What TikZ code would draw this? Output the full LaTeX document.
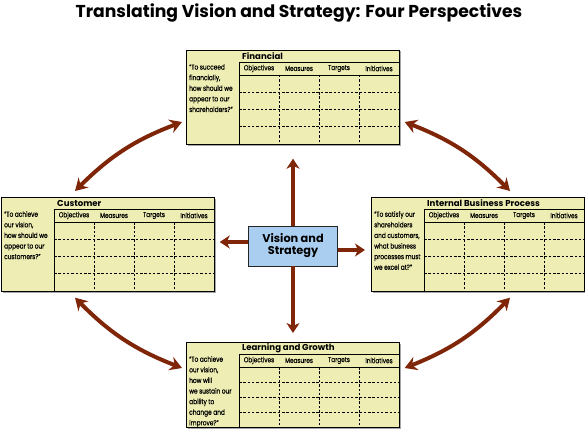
\documentclass[tikz,border=0pt]{standalone}
\usepackage{fontspec}
\setmainfont{Poppins}
\newfontfamily\narrowfont[FakeStretch=0.8,FakeBold=0.4]{Poppins}
\usetikzlibrary{arrows.meta,calc}
\definecolor{boxfill}{RGB}{238,238,180}
\definecolor{visfill}{RGB}{170,206,240}
\definecolor{arrowc}{RGB}{128,38,8}
\tikzset{
  pbox/.style={draw=black, line width=0.7pt, fill=boxfill, anchor=north west, inner sep=0pt, minimum width=213pt},
  shadowfill/.style={fill=black!35},
  gridline/.style={line width=0.6pt},
  dashline/.style={line width=0.6pt, dash pattern=on 2.5pt off 1.8pt},
  qtext/.style={anchor=north west, align=left, font=\narrowfont\fontsize{7.3}{10.6}\selectfont, inner sep=0pt},
  colhead/.style={font=\narrowfont\fontsize{7.2}{8}\selectfont, inner sep=0pt},
  ptitle/.style={font=\bfseries\fontsize{8.6}{9}\selectfont, anchor=west, inner sep=0pt},
  visbox/.style={draw=black!85, line width=0.9pt, fill=visfill, minimum width=89pt, minimum height=40pt, align=center, inner sep=0pt, font=\bfseries\fontsize{11.3}{12}\selectfont},
  bigarrow/.style={draw=arrowc, line width=4.5pt, -{Stealth[length=10pt,width=13pt,inset=3pt]}},
  dblarrow/.style={draw=arrowc, line width=4pt, {Stealth[length=12pt,width=14pt,inset=4pt]}-{Stealth[length=12pt,width=14pt,inset=4pt]}},
}
\newcommand\perspective[6]{% name, x, y, height, title, text
  \fill[shadowfill] ($(#2,#3)+(1.5,1.5)$) rectangle ++(213,#4);
  \node[pbox, minimum height=#4pt] (#1) at (#2,#3) {};
  \pgfmathsetmacro\rowh{(#4-25)/4}
  \draw[gridline] ($(#1.north west)+(53,12)$) -- ($(#1.north west)+(213,12)$);
  \draw[gridline] ($(#1.north west)+(53,25)$) -- ($(#1.north west)+(213,25)$);
  \draw[gridline] ($(#1.north west)+(53,12)$) -- ($(#1.north west)+(53,#4)$);
  \foreach \k in {1,2,3}{
    \draw[dashline] ($(#1.north west)+(53,25+\k*\rowh)$) -- ($(#1.north west)+(213,25+\k*\rowh)$);
    \draw[dashline] ($(#1.north west)+(53+\k*40,25)$) -- ($(#1.north west)+(53+\k*40,#4)$);
  }
  \node[colhead] (#1-h1) at ($(#1.north west)+(73,18.5)$) {Objectives};
  \node[colhead] (#1-h2) at ($(#1.north west)+(113,18.5)$) {Measures};
  \node[colhead] (#1-h3) at ($(#1.north west)+(153,18.5)$) {Targets};
  \node[colhead] (#1-h4) at ($(#1.north west)+(193,18.5)$) {Initiatives};
  \node[ptitle] (#1-title) at ($(#1.north west)+(56,6.3)$) {#5};
  \node[qtext] (#1-text) at ($(#1.north west)+(3,14)$) {#6};
}
\begin{document}
\begin{tikzpicture}[x=1pt,y=-1pt]
\useasboundingbox (0,0) rectangle (585,433);
\node[font=\bfseries\fontsize{17.2}{19}\selectfont, inner sep=0pt] (title) at (299,13) {Translating Vision and Strategy: Four Perspectives};

\perspective{fin}{186}{50}{94}{Financial}{“To succeed\\financially,\\how should we\\appear to our\\shareholders?”}
\perspective{cust}{1}{197}{94}{Customer}{“To achieve\\our vision,\\how should we\\appear to our\\customers?”}
\perspective{ibp}{371}{197}{94}{Internal Business Process}{“To satisfy our\\shareholders\\and customers,\\what business\\processes must\\we excel at?”}
\perspective{learn}{186}{342}{85}{Learning and Growth}{“To achieve\\our vision,\\how will\\we sustain our\\ability to\\change and\\improve?”}

\node[visbox] (vis) at (293,246) {Vision and\\Strategy};
\coordinate (vl) at ($(vis.west)+(0,-4)$);
\coordinate (vr) at ($(vis.east)+(0,4)$);

\draw[bigarrow, shorten >=14pt] (vis.north) -- (vis.north |- fin.south);
\draw[bigarrow, shorten >=9pt] (vis.south) -- (vis.south |- learn.north);
\draw[bigarrow, shorten >=5pt] (vl) -- (vl -| cust.east);
\draw[bigarrow, shorten >=6pt] (vr) -- (vr -| ibp.west);

\draw[dblarrow] ($(cust.north west)+(74,-6)$) to[bend left=12] ($(fin.north west)+(-4,72)$);
\draw[dblarrow] ($(fin.north east)+(5,72)$) to[bend left=12] ($(ibp.north west)+(139,-6)$);
\draw[dblarrow] ($(cust.south west)+(74,6)$) to[bend right=12] ($(learn.north west)+(-4,26)$);
\draw[dblarrow] ($(learn.north east)+(5,26)$) to[bend right=12] ($(ibp.south west)+(139,6)$);
\end{tikzpicture}
\end{document}
